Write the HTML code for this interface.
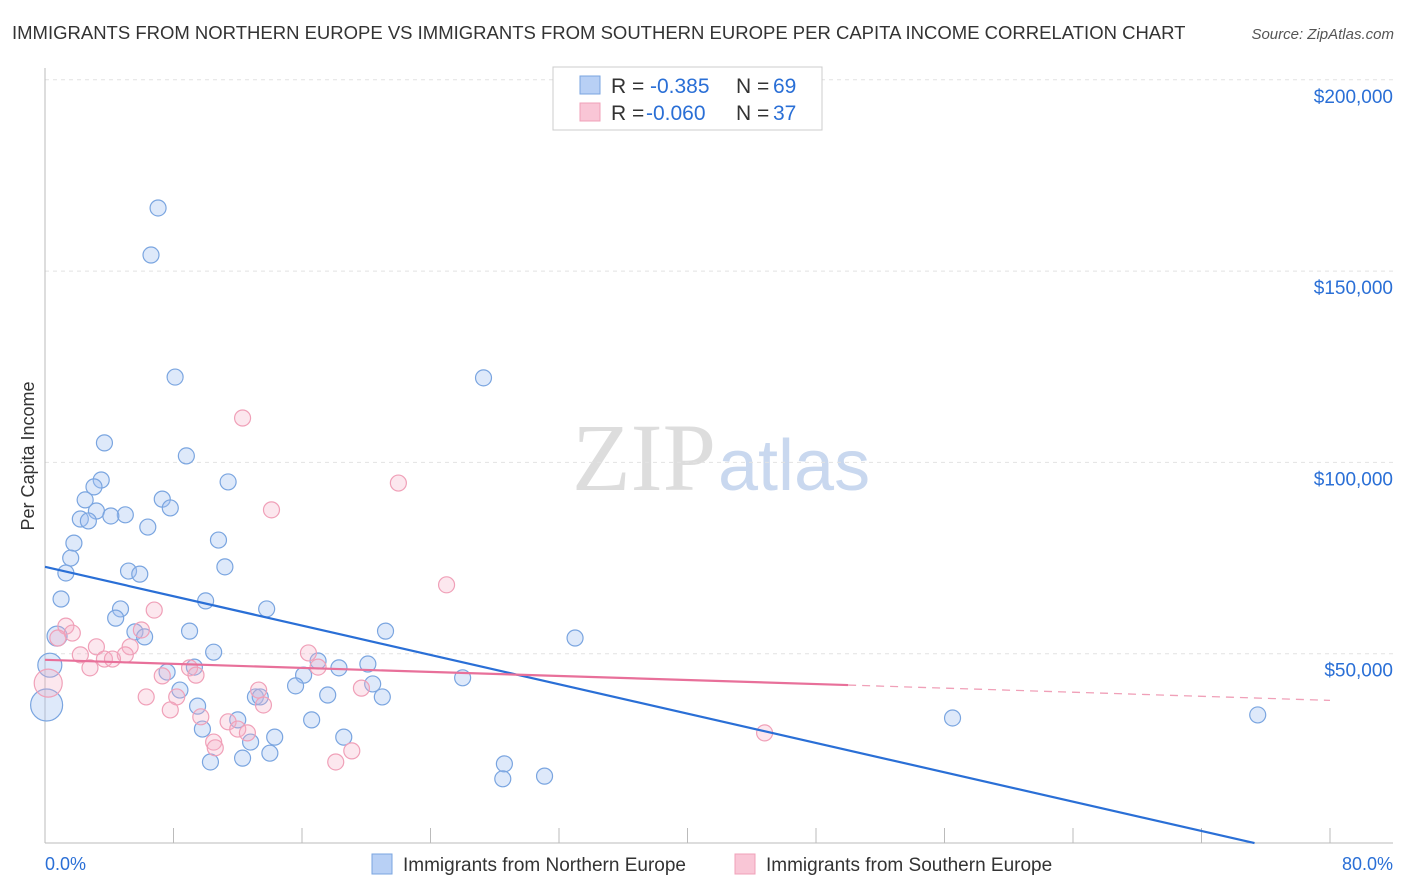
<!DOCTYPE html>
<html><head><meta charset="utf-8"><style>
body{margin:0;background:#fff;font-family:"Liberation Sans",sans-serif;}
svg{display:block}
</style></head><body>
<svg id="chart" width="1406" height="892">
<text x="12" y="39" font-size="18.5" fill="#333">IMMIGRANTS FROM NORTHERN EUROPE VS IMMIGRANTS FROM SOUTHERN EUROPE PER CAPITA INCOME CORRELATION CHART</text>
<text x="1394" y="39" font-size="15" fill="#555" font-style="italic" text-anchor="end">Source: ZipAtlas.com</text>
<text x="716" y="490" font-size="96" fill="#ddd" text-anchor="end" font-family="Liberation Serif,serif">ZIP</text>
<text x="718" y="490" font-size="72" fill="#c9d8ef">atlas</text>
<text transform="translate(34,456) rotate(-90)" font-size="18" fill="#333" text-anchor="middle">Per Capita Income</text>
<g id="grid"></g><g id="pts"></g><g id="lines"></g>
<g>
<rect x="553" y="67" width="269" height="63" fill="#fff" stroke="#ccc"/>
<rect x="580" y="76" width="20" height="18" fill="#b8d0f5" stroke="#7aa5e0"/>
<rect x="580" y="103" width="20" height="18" fill="#f9c6d6" stroke="#f0a0b8"/>
<g font-size="21" fill="#333">
<text x="611" y="93">R =</text>
<text x="650" y="93" fill="#2a6fd6">-0.385</text>
<text x="736" y="93">N =</text>
<text x="773" y="93" fill="#2a6fd6">69</text>
<text x="611" y="120">R =</text>
<text x="646" y="120" fill="#2a6fd6">-0.060</text>
<text x="736" y="120">N =</text>
<text x="773" y="120" fill="#2a6fd6">37</text>
</g>
</g>
<rect x="372" y="854" width="20" height="20" fill="#b8d0f5" stroke="#7aa5e0"/>
<text x="403" y="871" font-size="19" fill="#333">Immigrants from Northern Europe</text>
<rect x="735" y="854" width="20" height="20" fill="#f9c6d6" stroke="#f0a0b8"/>
<text x="766" y="871" font-size="19" fill="#333">Immigrants from Southern Europe</text>
<text x="45" y="870" font-size="18" fill="#2a6fd6">0.0%</text>
<text x="1393" y="870" font-size="18" fill="#2a6fd6" text-anchor="end">80.0%</text>
</svg>
<script>
const yTicks=[50000,100000,150000,200000];
const yTickLabels=["$50,000","$100,000","$150,000","$200,000"];
const blueX=[7.04,6.6,8.1,27.3,3.7,8.8,3.5,11.4,3.05,7.3,2.5,7.8,3.2,5.0,4.1,2.2,2.7,6.4,10.8,1.8,1.6,1.3,5.2,5.9,11.2,1.0,10.0,13.8,4.7,4.4,9.0,21.2,5.6,6.2,33.0,0.75,10.5,17.0,0.3,20.1,9.3,18.3,7.6,16.1,26.0,20.4,15.6,8.4,17.6,21.0,13.1,13.4,0.1,9.5,12.0,16.6,56.5,75.5,9.8,14.3,18.6,12.8,14.0,12.3,10.3,28.6,31.1,28.5];
const blueY=[166500,154200,122300,122100,105100,101700,95400,94900,93600,90400,90200,88100,87300,86300,86000,85200,84700,83100,79700,78900,75000,71100,71600,70800,72700,64300,63800,61700,61700,59300,55900,55900,55700,54400,54100,54600,50400,48100,47000,47300,46500,46300,45200,44400,43700,42100,41600,40500,39200,38700,38700,38700,36600,36300,32700,32700,33200,34000,30300,28200,28200,26900,24000,22700,21700,21200,18000,17300];
const blueR=[8,8,8,8,8,8,8,8,8,8,8,8,8,8,8,8,8,8,8,8,8,8,8,8,8,8,8,8,8,8,8,8,8,8,8,10,8,8,12,8,8,8,8,8,8,8,8,8,8,8,8,8,16,8,8,8,8,8,8,8,8,8,8,8,8,8,8,8];
const pinkX=[12.3,22.0,14.1,25.0,6.8,1.3,1.7,0.8,6.0,5.3,3.2,16.4,2.2,5.0,3.7,4.2,17.0,2.8,9.0,7.3,9.4,0.2,13.3,19.7,6.3,8.2,13.6,7.8,9.7,11.4,12.0,12.6,44.8,10.5,10.6,19.1,18.1];
const pinkY=[111600,94600,87600,68000,61400,57200,55400,54100,56200,51800,51800,50200,49700,49700,48600,48600,46500,46300,46300,44200,44400,42300,40500,41000,38700,38700,36600,35300,33500,32200,30300,29300,29300,26900,25400,24600,21700];
const blueTrend=[[0,72700],[75.3,500]];
const pinkTrend=[[0,48400],[50,41800],[80,37800]];
const X=v=>45+v/80*1285, Y=v=>845-v/50000*191.3;
const NS="http://www.w3.org/2000/svg";
function mk(p,t,a){const e=document.createElementNS(NS,t);for(const k in a)e.setAttribute(k,a[k]);p.appendChild(e);return e;}
const g=document.getElementById('grid');
yTicks.forEach((v,i)=>{
 const l=mk(g,'line',{x1:45,x2:1393,y1:Y(v),y2:Y(v),stroke:'#e2e2e2','stroke-dasharray':'4,4'});
 
 
 const t=mk(g,'text',{x:1393,y:Y(v)+23,'font-size':19,fill:'#2a6fd6','text-anchor':'end'});
 t.textContent=yTickLabels[i];
 
 
});
const ya=mk(g,'line',{x1:45,x2:45,y1:68,y2:843,stroke:'#bbb'});


const xa=mk(g,'line',{x1:45,x2:1393,y1:843,y2:843,stroke:'#bbb'});


for(let i=0;i<=10;i++){const tk=mk(g,'line',{x1:X(i*8),x2:X(i*8),y1:828,y2:843,stroke:'#bbb'});
 
 }
const pg=document.getElementById('pts');
blueX.forEach((x,i)=>{const c=mk(pg,'circle',{cx:X(x),cy:Y(blueY[i]),r:blueR[i],fill:'rgba(160,192,240,0.35)',stroke:'#7aa5e0','stroke-width':1.2});
 
 });
pinkX.forEach((x,i)=>{const c=mk(pg,'circle',{cx:X(x),cy:Y(pinkY[i]),r:i==21?14:8,fill:'rgba(245,175,198,0.3)',stroke:'#f0a0b8','stroke-width':1.2});
 
 });
const lg=document.getElementById('lines');
const bl=mk(lg,'line',{x1:X(blueTrend[0][0]),y1:Y(blueTrend[0][1]),x2:X(blueTrend[1][0]),y2:Y(blueTrend[1][1]),stroke:'#2a6fd6','stroke-width':2.2});


const pl=mk(lg,'line',{x1:X(pinkTrend[0][0]),y1:Y(pinkTrend[0][1]),x2:X(pinkTrend[1][0]),y2:Y(pinkTrend[1][1]),stroke:'#e8709a','stroke-width':2.2});


const pd=mk(lg,'line',{x1:X(pinkTrend[1][0]),y1:Y(pinkTrend[1][1]),x2:X(pinkTrend[2][0]),y2:Y(pinkTrend[2][1]),stroke:'#f0a0b8','stroke-width':1.3,'stroke-dasharray':'8,6'});


</script>
</body></html>
